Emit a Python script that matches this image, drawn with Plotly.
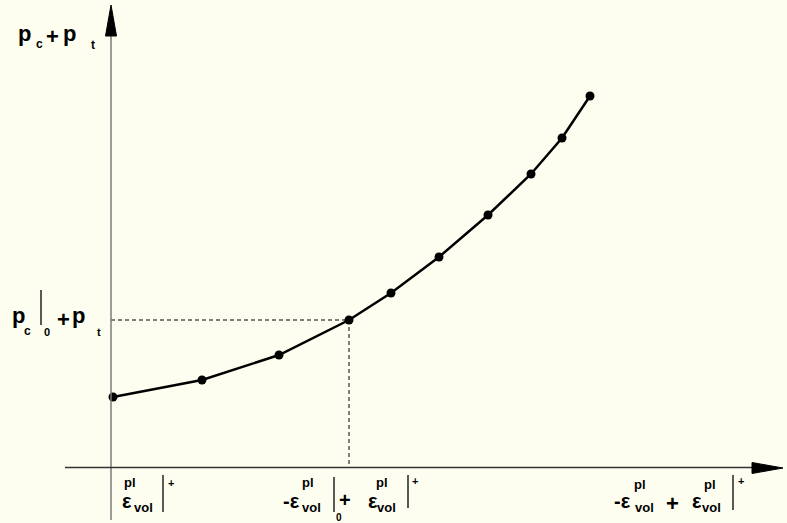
import plotly.graph_objects as go

# plastic volumetric strain vs. total pressure (arbitrary units, origin at axis crossing)
eps_vol = [0.02, 0.91, 1.68, 2.38, 2.80, 3.28, 3.77, 4.20, 4.51, 4.79]
p_total = [0.70, 0.87, 1.12, 1.47, 1.74, 2.10, 2.52, 2.93, 3.29, 3.71]
ref_idx = 3  # point at p_c|0 + p_t

W, H = 787, 523
BG = "#FEFEF0"
FONT = "Liberation Sans"


def px(x):
    return x / W


def py(y):
    return 1 - y / H


fig = go.Figure()

# curve
fig.add_trace(go.Scatter(
    x=eps_vol, y=p_total, mode="lines+markers",
    line=dict(color="black", width=2.5),
    marker=dict(color="black", size=9),
    showlegend=False, hoverinfo="skip",
))

# dashed guides to the reference point
e0, p0 = eps_vol[ref_idx], p_total[ref_idx]
fig.add_trace(go.Scatter(
    x=[0, e0, e0], y=[p0, p0, 0], mode="lines",
    line=dict(color="black", width=1, dash="4px,3px"),
    showlegend=False, hoverinfo="skip",
))

shapes = []
# axes lines
shapes.append(dict(type="line", xref="paper", yref="paper",
                   x0=px(111), y0=py(520), x1=px(111), y1=py(30),
                   line=dict(color="#7a7a7a", width=1.5)))
shapes.append(dict(type="line", xref="paper", yref="paper",
                   x0=px(65), y0=py(467.5), x1=px(760), y1=py(467.5),
                   line=dict(color="#333333", width=1.5)))
# arrow heads
shapes.append(dict(type="path", xref="paper", yref="paper",
                   path=f"M {px(111)},{py(5)} L {px(105.5)},{py(36)} L {px(116.5)},{py(36)} Z",
                   fillcolor="black", line=dict(color="black", width=1)))
shapes.append(dict(type="path", xref="paper", yref="paper",
                   path=f"M {px(783)},{py(468)} L {px(752)},{py(462.5)} L {px(752)},{py(473.5)} Z",
                   fillcolor="black", line=dict(color="black", width=1)))

# evaluation bars
for bx, b0, b1 in [(41, 290, 325), (163, 475, 512), (334, 477, 512),
                   (408, 475, 508), (733, 475, 510)]:
    shapes.append(dict(type="line", xref="paper", yref="paper",
                       x0=px(bx), y0=py(b0), x1=px(bx), y1=py(b1),
                       line=dict(color="#222222", width=1.5)))

annotations = []


def txt(s, x, y, size):
    annotations.append(dict(
        text=f"<b>{s}</b>", x=px(x), y=py(y), xref="paper", yref="paper",
        xanchor="center", yanchor="middle", showarrow=False,
        font=dict(family=FONT, size=size, color="black"),
    ))


# y-axis title: p_c + p_t
txt("p", 24, 33, 22)
txt("c", 39, 44, 12)
txt("+", 53, 36, 22)
txt("p", 69, 33, 22)
txt("t", 93, 44.5, 12)

# reference level: p_c|0 + p_t
txt("p", 18, 315, 22)
txt("c", 27, 331, 12)
txt("0", 47, 332, 11)
txt("+", 63, 319, 22)
txt("p", 78, 315, 22)
txt("t", 99, 332, 11)

# x labels
txt("pl", 130, 482, 13)
txt("ε", 127, 501, 20)
txt("vol", 143, 507, 13)
txt("+", 171, 483, 11)

txt("-ε", 291, 501, 20)
txt("pl", 308, 482, 13)
txt("vol", 311, 507, 13)
txt("+", 345, 500, 20)
txt("0", 339, 517, 10)
txt("pl", 382, 482, 13)
txt("ε", 373, 501, 20)
txt("vol", 386, 507, 13)
txt("+", 415, 481, 11)

txt("-ε", 622, 501, 20)
txt("pl", 640, 484, 13)
txt("vol", 644, 507, 13)
txt("+", 672, 503, 22)
txt("pl", 710, 484, 13)
txt("ε", 697, 501, 20)
txt("vol", 711, 507, 13)
txt("+", 741, 481, 11)

fig.update_layout(
    width=W, height=H,
    margin=dict(l=0, r=0, t=0, b=0),
    paper_bgcolor=BG, plot_bgcolor=BG,
    xaxis=dict(range=[-1.11, 6.76], visible=False, fixedrange=True),
    yaxis=dict(range=[-0.56, 4.67], visible=False, fixedrange=True),
    shapes=shapes, annotations=annotations,
)

# drop the default page margin so the figure fills the window
fig.write_html("out.html", config={"displayModeBar": False},
               post_script="document.body.style.margin='0';")
